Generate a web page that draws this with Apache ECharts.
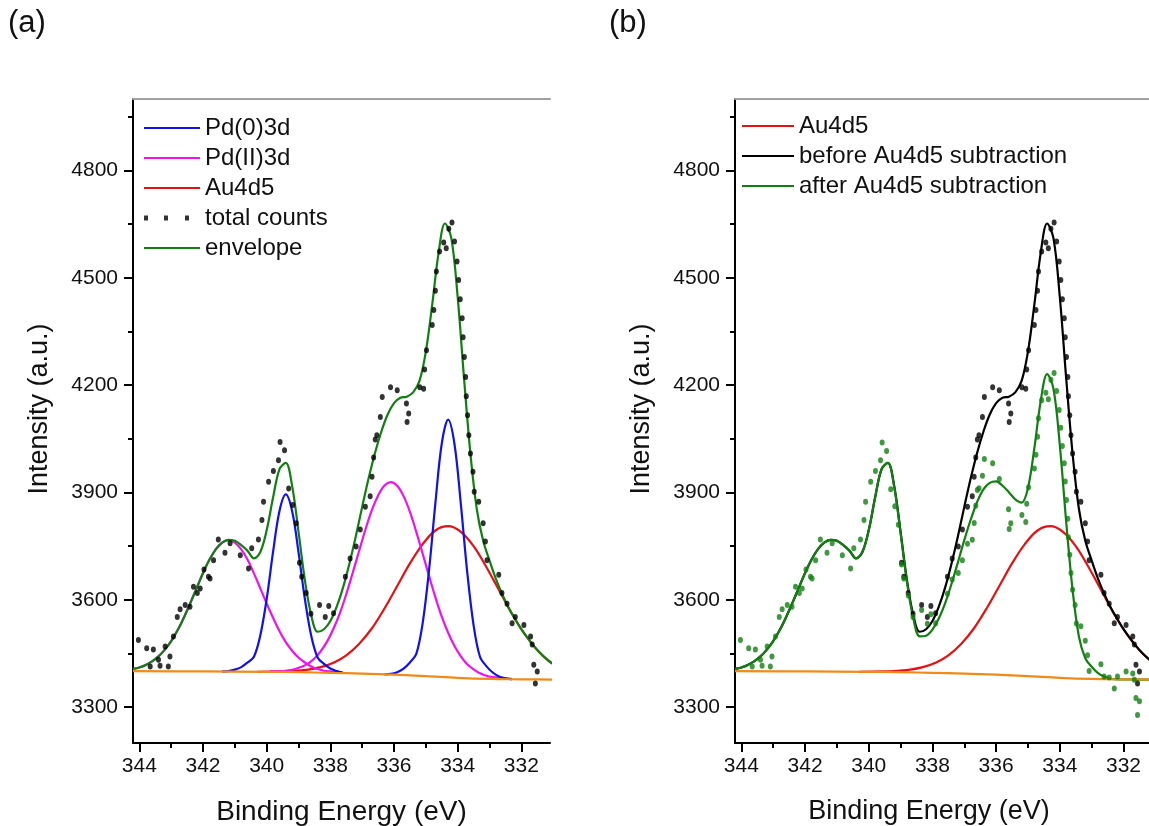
<!DOCTYPE html>
<html>
<head>
<meta charset="utf-8">
<script src="https://cdn.jsdelivr.net/npm/echarts@6.0.0/dist/echarts.min.js"></script>
<style>
  html, body { margin: 0; padding: 0; background: #fff; }
  #main { width: 1149px; height: 826px; }
</style>
</head>
<body>
<div id="main"></div>
<script>
// energy grid for the fitted curves (eV)
const energyGrid = [344.2, 344.0, 343.8, 343.6, 343.4, 343.2, 343.0, 342.8, 342.6, 342.4, 342.2, 342.0,
  341.8, 341.6, 341.4, 341.2, 341.0, 340.8, 340.6, 340.4, 340.2, 340.0, 339.8, 339.6, 339.4, 339.2,
  339.0, 338.8, 338.6, 338.4, 338.2, 338.0, 337.8, 337.6, 337.4, 337.2, 337.0, 336.8, 336.6, 336.4,
  336.2, 336.0, 335.8, 335.6, 335.4, 335.2, 335.0, 334.8, 334.6, 334.4, 334.2, 334.0, 333.8, 333.6,
  333.4, 333.2, 333.0, 332.8, 332.6, 332.4, 332.2, 332.0, 331.8, 331.6, 331.4, 331.2, 331.0];

// envelope (= before Au4d5 subtraction)
const envelope = [3407, 3411, 3418, 3428, 3442, 3461, 3485, 3515, 3551, 3591, 3633, 3675,
  3712, 3741, 3760, 3768, 3765, 3753, 3737, 3716, 3734, 3795, 3886, 3965, 3983, 3918,
  3790, 3655, 3557, 3511, 3518, 3541, 3581, 3635, 3702, 3778, 3860, 3939, 4010, 4070,
  4118, 4150, 4165, 4168, 4180, 4212, 4294, 4425, 4570, 4652, 4611, 4446, 4219, 4009,
  3854, 3765, 3710, 3659, 3616, 3578, 3547, 3518, 3493, 3470, 3450, 3434, 3421];

// after Au4d5 subtraction
const afterSub = [3407, 3411, 3418, 3428, 3442, 3461, 3485, 3515, 3551, 3591, 3633, 3675,
  3712, 3741, 3760, 3768, 3765, 3753, 3737, 3716, 3734, 3795, 3886, 3965, 3983, 3915,
  3786, 3649, 3548, 3498, 3500, 3517, 3548, 3591, 3645, 3705, 3767, 3824, 3873, 3909,
  3927, 3931, 3919, 3901, 3881, 3872, 3913, 4024, 4156, 4231, 4190, 4032, 3818, 3628,
  3497, 3437, 3413, 3395, 3385, 3379, 3378, 3378, 3378, 3377, 3377, 3377, 3377];

const baseline = [[344.2, 3401], [342, 3400], [340, 3399], [339, 3398], [338, 3396], [337, 3394],
  [336, 3391], [335, 3387], [334, 3382], [333, 3379], [332, 3378], [330.7, 3377]];

const pd0a = [[341.4, 3400], [341.2, 3401], [341.0, 3405], [340.8, 3412], [340.6, 3425], [340.4, 3441],
  [340.2, 3501], [340.0, 3603], [339.8, 3734], [339.6, 3848], [339.4, 3895], [339.2, 3848], [339.0, 3733],
  [338.8, 3602], [338.6, 3499], [338.4, 3439], [338.2, 3421], [338.0, 3408], [337.8, 3401], [337.6, 3396]];

const pd0b = [[336.3, 3392], [336.1, 3393], [335.9, 3398], [335.7, 3408], [335.5, 3425], [335.3, 3449],
  [335.1, 3535], [334.9, 3683], [334.7, 3871], [334.5, 4037], [334.3, 4104], [334.1, 4035], [333.9, 3867],
  [333.7, 3677], [333.5, 3529], [333.3, 3441], [333.1, 3415], [332.9, 3397], [332.7, 3386], [332.5, 3381],
  [332.3, 3378]];

const pd2a = [[344.2, 3407], [344.0, 3411], [343.8, 3418], [343.6, 3428], [343.4, 3442], [343.2, 3461],
  [343.0, 3485], [342.8, 3515], [342.6, 3551], [342.4, 3591], [342.2, 3633], [342.0, 3675], [341.8, 3712],
  [341.6, 3741], [341.4, 3760], [341.2, 3767], [341.0, 3760], [340.8, 3741], [340.6, 3712], [340.4, 3674],
  [340.2, 3632], [340.0, 3590], [339.8, 3550], [339.6, 3513], [339.4, 3482], [339.2, 3458], [339.0, 3439],
  [338.8, 3425], [338.6, 3414], [338.4, 3407], [338.2, 3402], [338.0, 3400], [337.8, 3398], [337.6, 3396]];

const pd2b = [[339.9, 3400], [339.7, 3401], [339.5, 3401], [339.3, 3403], [339.1, 3407], [338.9, 3413],
  [338.7, 3422], [338.5, 3436], [338.3, 3457], [338.1, 3484], [337.9, 3520], [337.7, 3563], [337.5, 3616],
  [337.3, 3675], [337.1, 3736], [336.9, 3796], [336.7, 3850], [336.5, 3892], [336.3, 3920], [336.1, 3929],
  [335.9, 3919], [335.7, 3890], [335.5, 3846], [335.3, 3790], [335.1, 3729], [334.9, 3667], [334.7, 3607],
  [334.5, 3553], [334.3, 3508], [334.1, 3471], [333.9, 3442], [333.7, 3420], [333.5, 3406], [333.3, 3395],
  [333.1, 3388], [332.9, 3384], [332.7, 3382], [332.5, 3381], [332.3, 3379]];

const au4d5 = [[340.3, 3399], [339.5, 3400], [339.1, 3402], [338.7, 3405], [338.3, 3412], [337.9, 3424],
  [337.5, 3445], [337.1, 3477], [336.7, 3520], [336.3, 3576], [335.9, 3639], [335.5, 3702], [335.1, 3756],
  [334.7, 3794], [334.3, 3806], [333.9, 3790], [333.5, 3750], [333.1, 3692], [332.7, 3627], [332.3, 3562],
  [331.9, 3505], [331.5, 3460], [331.1, 3427], [330.7, 3405]];

// measured points (total counts)
const totalCounts = [[344.03, 3488], [343.77, 3465], [343.66, 3414], [343.56, 3461], [343.40, 3433],
  [343.35, 3416], [343.19, 3470], [343.09, 3414], [343.04, 3442], [342.93, 3498], [342.81, 3552],
  [342.72, 3574], [342.56, 3586], [342.41, 3581], [342.30, 3637], [342.18, 3619], [342.09, 3632],
  [341.97, 3685], [341.83, 3665], [341.78, 3660], [341.67, 3711], [341.52, 3769], [341.31, 3732],
  [341.15, 3758], [340.83, 3725], [340.57, 3688], [340.47, 3744], [340.26, 3769], [340.15, 3823],
  [340.10, 3874], [339.94, 3930], [339.79, 3960], [339.63, 3990], [339.58, 4041], [339.44, 4018],
  [339.31, 3911], [339.18, 3865], [339.07, 3814], [338.97, 3704], [338.90, 3665], [338.76, 3619],
  [338.61, 3561], [338.34, 3586], [338.16, 3552], [338.05, 3583], [337.90, 3563], [337.53, 3665],
  [337.38, 3716], [337.19, 3749], [337.06, 3797], [336.90, 3860], [336.75, 3890], [336.69, 3944],
  [336.64, 3998], [336.59, 4048], [336.54, 4060], [336.43, 4111], [336.37, 4167], [336.11, 4194],
  [335.90, 4186], [335.61, 4149], [335.59, 4097], [335.54, 4121], [335.19, 4194], [335.07, 4190],
  [335.04, 4244], [334.98, 4298], [334.80, 4368], [334.75, 4410], [334.70, 4464], [334.67, 4518],
  [334.57, 4574], [334.44, 4599], [334.36, 4583], [334.28, 4637], [334.18, 4655], [334.10, 4602],
  [334.02, 4546], [333.97, 4494], [333.92, 4440], [333.86, 4387], [333.83, 4334], [333.79, 4279],
  [333.75, 4223], [333.73, 4169], [333.69, 4116], [333.65, 4060], [333.60, 4009], [333.52, 3958],
  [333.48, 3902], [333.34, 3874], [333.20, 3814], [333.13, 3763], [333.08, 3711], [332.71, 3670],
  [332.61, 3619], [332.45, 3589], [332.29, 3535], [332.19, 3552], [331.92, 3530], [331.71, 3498],
  [331.66, 3475], [331.61, 3419], [331.56, 3366], [331.50, 3400]];

// measured points after Au4d5 subtraction
const afterCounts = [[344.03, 3488], [343.77, 3465], [343.66, 3414], [343.56, 3461], [343.40, 3433],
  [343.35, 3416], [343.19, 3470], [343.09, 3414], [343.04, 3442], [342.93, 3498], [342.81, 3552],
  [342.72, 3574], [342.56, 3586], [342.41, 3581], [342.30, 3637], [342.18, 3619], [342.09, 3632],
  [341.97, 3685], [341.83, 3665], [341.78, 3660], [341.67, 3711], [341.52, 3769], [341.31, 3732],
  [341.15, 3758], [340.83, 3725], [340.57, 3688], [340.47, 3744], [340.26, 3769], [340.15, 3823],
  [340.10, 3874], [339.94, 3930], [339.79, 3960], [339.63, 3990], [339.58, 4040], [339.44, 4016],
  [339.31, 3909], [339.18, 3862], [339.07, 3810], [338.97, 3699], [338.90, 3660], [338.76, 3612],
  [338.61, 3552], [338.34, 3572], [338.16, 3533], [338.05, 3560], [337.90, 3535], [337.53, 3617],
  [337.38, 3657], [337.19, 3675], [337.06, 3711], [336.90, 3757], [336.75, 3768], [336.69, 3815],
  [336.64, 3863], [336.59, 3907], [336.54, 3912], [336.43, 3947], [336.37, 3994], [336.11, 3982],
  [335.90, 3938], [335.61, 3853], [335.59, 3798], [335.54, 3814], [335.19, 3837], [335.07, 3818],
  [335.04, 3869], [334.98, 3915], [334.80, 3967], [334.75, 4006], [334.70, 4056], [334.67, 4108],
  [334.57, 4158], [334.44, 4179], [334.36, 4161], [334.28, 4215], [334.18, 4234], [334.10, 4184],
  [334.02, 4131], [333.97, 4081], [333.92, 4030], [333.86, 3982], [333.83, 3931], [333.79, 3879],
  [333.75, 3827], [333.73, 3775], [333.69, 3726], [333.65, 3675], [333.60, 3628], [333.52, 3586],
  [333.48, 3534], [333.34, 3526], [333.20, 3486], [333.13, 3445], [333.08, 3401], [332.71, 3420],
  [332.61, 3386], [332.45, 3383], [332.29, 3352], [332.19, 3386], [331.92, 3400], [331.71, 3394],
  [331.66, 3377], [331.61, 3326], [331.56, 3278], [331.50, 3317]];

const majorX = [332, 334, 336, 338, 340, 342, 344];
const minorX = [333, 335, 337, 339, 341, 343];
const majorY = [3300, 3600, 3900, 4200, 4500, 4800];
const minorY = [3450, 3750, 4050, 4350, 4650, 4950];

const FONT = "'Liberation Sans', Arial, sans-serif";
const BLUE = '#1010f0', MAGENTA = '#f010f0', RED = '#e81010', GREEN = '#108010', ORANGE = '#f08a18';

const zip = (xs, ys) => xs.map((x, i) => [x, ys[i]]);
const plain = v => String(v);

const xMajor = (grid, min, shift, size) => ({
  gridIndex: grid, type: 'value', min: min, max: 344.2, inverse: true, position: 'bottom',
  axisLine: { lineStyle: { color: '#000', width: 2 } },
  axisTick: { customValues: majorX, length: 9, lineStyle: { color: '#000', width: 2 } },
  axisLabel: { customValues: majorX, formatter: plain, fontSize: 21, color: '#111', margin: 13, fontFamily: FONT },
  splitLine: { show: false },
  name: 'Binding Energy (eV)', nameLocation: 'middle', nameGap: 55,
  nameTextStyle: { fontSize: size, color: '#111', fontFamily: FONT, padding: shift }
});
const xMinor = (grid, min) => ({
  gridIndex: grid, type: 'value', min: min, max: 344.2, inverse: true, position: 'bottom',
  axisLine: { show: false },
  axisTick: { customValues: minorX, length: 5, lineStyle: { color: '#000', width: 2 } },
  axisLabel: { show: false }, splitLine: { show: false }
});
const xTop = (grid, min) => ({
  gridIndex: grid, type: 'value', min: min, max: 344.2, inverse: true, position: 'top',
  axisLine: { lineStyle: { color: '#a0a0a0', width: 2 } },
  axisTick: { show: false }, axisLabel: { show: false }, splitLine: { show: false }
});
const yMajor = (grid) => ({
  gridIndex: grid, type: 'value', min: 3200, max: 5000, position: 'left',
  axisLine: { show: true, lineStyle: { color: '#000', width: 2 } },
  axisTick: { show: true, customValues: majorY, length: 9, lineStyle: { color: '#000', width: 2 } },
  axisLabel: { customValues: majorY, formatter: plain, fontSize: 21, color: '#111', margin: 15, fontFamily: FONT },
  splitLine: { show: false },
  name: 'Intensity (a.u.)', nameLocation: 'middle', nameGap: 80,
  nameTextStyle: { fontSize: 27, color: '#111', fontFamily: FONT, padding: [0, 0, 0, 24] }
});
const yMinor = (grid) => ({
  gridIndex: grid, type: 'value', min: 3200, max: 5000, position: 'left',
  axisLine: { show: false },
  axisTick: { show: true, customValues: minorY, length: 5, lineStyle: { color: '#000', width: 2 } },
  axisLabel: { show: false }, splitLine: { show: false }
});

const line = (name, data, color, xi, yi, z) => ({
  name: name, type: 'line', data: data, xAxisIndex: xi, yAxisIndex: yi,
  smooth: 0.35, symbol: 'none', z: z, color: color,
  lineStyle: { color: color, width: 2.2 }, itemStyle: { color: color }
});
const dots = (name, data, color, xi, yi, z) => ({
  name: name, type: 'scatter', data: data, xAxisIndex: xi, yAxisIndex: yi,
  symbol: 'circle', symbolSize: [5, 6], z: z, itemStyle: { color: color }
});

const legendText = { fontSize: 24, lineHeight: 30, color: '#111', fontFamily: FONT };
const legendBase = { orient: 'vertical', padding: 0, itemGap: 0, selectedMode: false, textStyle: legendText };

const chart = echarts.init(document.getElementById('main'));
chart.setOption({
  animation: false,
  backgroundColor: '#fff',
  textStyle: { fontFamily: FONT },
  title: [
    { text: '(a)', left: 8, top: 8, padding: 0, textStyle: { fontSize: 31, fontWeight: 'normal', color: '#111', fontFamily: FONT } },
    { text: '(b)', left: 609, top: 8, padding: 0, textStyle: { fontSize: 31, fontWeight: 'normal', color: '#111', fontFamily: FONT } }
  ],
  grid: [
    { left: 133, top: 99, width: 417, height: 644, containLabel: false, outerBoundsMode: 'none' },
    { left: 735, top: 99, width: 414, height: 644, containLabel: false, outerBoundsMode: 'none' }
  ],
  xAxis: [xMajor(0, 331.1, [0, 0, 0, 0], 28), xMinor(0, 331.1), xTop(0, 331.1),
          xMajor(1, 331.2, [0, 26, 0, 0], 27), xMinor(1, 331.2), xTop(1, 331.2)],
  yAxis: [yMajor(0), yMinor(0), yMajor(1), yMinor(1)],
  legend: [
    Object.assign({}, legendBase, { left: 144, top: 113, itemWidth: 56, itemHeight: 2,
      data: [{ name: 'Pd(0)3d', icon: 'rect' }, { name: 'Pd(II)3d', icon: 'rect' }, { name: 'Au4d5', icon: 'rect' }] }),
    Object.assign({}, legendBase, { left: 144, top: 203, itemWidth: 45, itemHeight: 5,
      textStyle: Object.assign({}, legendText, { padding: [0, 0, 0, 11] }),
      data: [{ name: 'total counts', icon: 'path://M0,0h4v5h-4zM20,0h4v5h-4zM41,0h4v5h-4z' }] }),
    Object.assign({}, legendBase, { left: 144, top: 233, itemWidth: 56, itemHeight: 2,
      data: [{ name: 'envelope', icon: 'rect' }] }),
    Object.assign({}, legendBase, { left: 742, top: 111, itemWidth: 52, itemHeight: 2,
      data: [{ name: 'Au4d5', icon: 'rect' }, { name: 'before Au4d5 subtraction', icon: 'rect' },
             { name: 'after Au4d5 subtraction', icon: 'rect' }] })
  ],
  series: [
    // panel (a)
    line('Au4d5', au4d5, RED, 0, 0, 2),
    line('Pd(II)3d', pd2a, MAGENTA, 0, 0, 3),
    line('Pd(II)3d', pd2b, MAGENTA, 0, 0, 3),
    line('Pd(0)3d', pd0a, BLUE, 0, 0, 4),
    line('Pd(0)3d', pd0b, BLUE, 0, 0, 4),
    line('envelope', zip(energyGrid, envelope), GREEN, 0, 0, 5),
    line('background', baseline, ORANGE, 0, 0, 6),
    dots('total counts', totalCounts, '#000', 0, 0, 7),
    // panel (b)
    line('Au4d5', au4d5, RED, 3, 2, 2),
    line('before Au4d5 subtraction', zip(energyGrid, envelope), '#000', 3, 2, 3),
    line('after Au4d5 subtraction', zip(energyGrid, afterSub), GREEN, 3, 2, 4),
    line('background b', baseline, ORANGE, 3, 2, 5),
    dots('counts b', totalCounts.filter(p => p[0] < 339.0), '#000', 3, 2, 6),
    dots('after counts', afterCounts, GREEN, 3, 2, 7)
  ]
});
</script>
</body>
</html>
